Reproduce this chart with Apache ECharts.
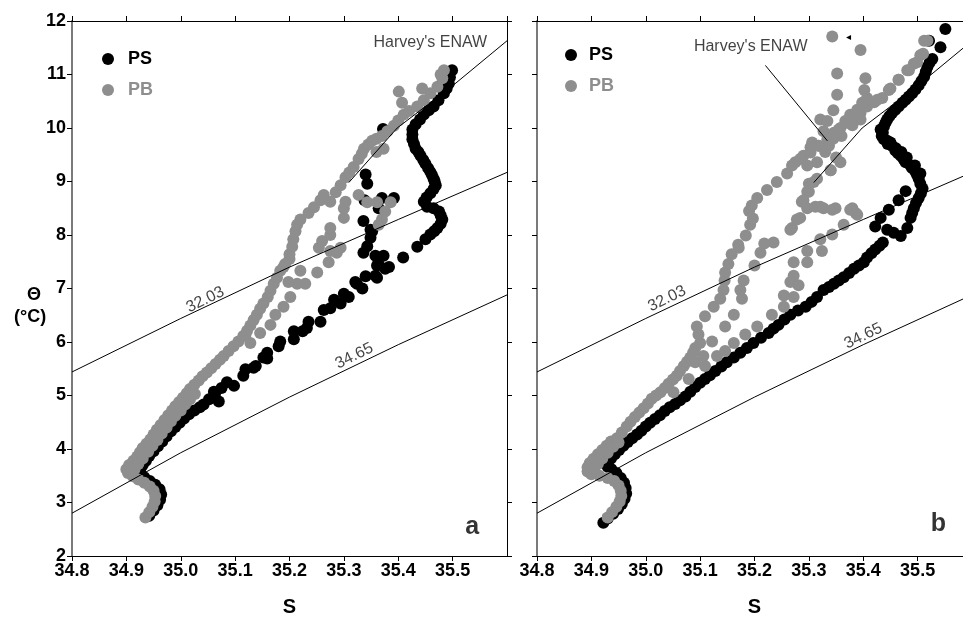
<!DOCTYPE html>
<html><head><meta charset="utf-8">
<script src="https://cdn.jsdelivr.net/npm/echarts@6/dist/echarts.min.js"></script>
<style>html,body{margin:0;padding:0;overflow:hidden;background:#fff}#c{width:990px;height:622px}</style>
</head><body><div id="c"></div>
<script>
// ---------- data ----------
const sTicks = [34.8, 34.9, 35.0, 35.1, 35.2, 35.3, 35.4, 35.5, 35.6];
const thetaTicks = [2, 3, 4, 5, 6, 7, 8, 9, 10, 11, 12];

// panel a, PS (black)
const psA = [
[34.942,2.75],[34.950,2.85],[34.957,2.95],[34.962,3.05],[34.964,3.15],[34.961,3.25],[34.953,3.33],[34.943,3.40],[34.933,3.47],[34.926,3.55],[34.925,3.62],[34.93,3.70],[34.936,3.78],[34.942,3.87],[34.95,3.96],[34.958,4.05],[34.966,4.14],[34.974,4.24],[34.982,4.33],[34.99,4.41],[34.998,4.49],[35.006,4.57],[35.015,4.65],[35.025,4.72],[35.035,4.78],[35.042,4.83],[35.052,4.93],[35.063,5.03],[35.07,4.89],[35.061,5.07],[35.075,5.14],[35.085,5.25],[35.098,5.18],[35.115,5.37],[35.119,5.49],[35.134,5.52],[35.138,5.55],[35.152,5.71],[35.159,5.80],[35.159,5.69],[35.18,5.92],[35.183,6.01],[35.208,6.05],[35.208,6.20],[35.224,6.20],[35.232,6.26],[35.235,6.38],[35.257,6.38],[35.263,6.60],[35.275,6.63],[35.282,6.79],[35.294,6.72],[35.30,6.90],[35.309,6.84],[35.321,7.12],[35.324,7.09],[35.334,7.00],[35.34,7.23],[35.358,7.24],[35.361,7.20],[35.361,7.43],[35.376,7.37],[35.383,7.40],[35.364,7.45],[35.336,7.67],[35.358,7.61],[35.373,7.61],[35.409,7.58],[35.343,7.79],[35.349,7.95],[35.349,8.10],[35.352,8.07],[35.336,8.26],[35.338,8.65],[35.364,8.50],[35.37,8.69],[35.392,8.69],[35.343,8.96],[35.34,9.13],[35.372,9.98],
[35.435,7.78],[35.45,7.92],[35.459,8.01],[35.466,8.07],[35.472,8.13],[35.478,8.21],[35.481,8.29],[35.478,8.37],[35.475,8.44],[35.465,8.50],[35.453,8.53],[35.447,8.62],[35.452,8.70],[35.459,8.78],[35.465,8.86],[35.469,8.93],[35.467,9.0],[35.465,9.05],[35.462,9.12],[35.459,9.18],[35.455,9.25],[35.45,9.33],[35.446,9.40],[35.441,9.48],[35.437,9.55],[35.432,9.61],[35.429,9.70],[35.426,9.79],[35.426,9.88],[35.426,9.97],[35.432,10.07],[35.44,10.16],[35.447,10.25],[35.456,10.33],[35.465,10.40],[35.474,10.52],[35.484,10.65],[35.489,10.74],[35.493,10.83],[35.495,10.95],[35.499,11.08]
];

// panel a, PB (grey)
const pbA = [
[34.935,2.72],[34.942,2.82],[34.948,2.92],[34.952,3.02],[34.953,3.12],[34.950,3.22],[34.943,3.30],[34.933,3.37],[34.922,3.43],[34.912,3.49],[34.903,3.55],[34.900,3.62],[34.905,3.70],[34.913,3.78],[34.92,3.86],[34.925,3.94],[34.93,4.02],[34.937,4.10],[34.944,4.18],[34.95,4.27],[34.956,4.36],[34.963,4.45],[34.97,4.54],[34.977,4.63],[34.984,4.72],[34.99,4.80],[34.997,4.88],[35.004,4.96],[35.011,5.04],[35.017,5.12],[35.025,5.2],[35.033,5.28],[35.04,5.36],[35.048,5.43],[35.056,5.51],[35.064,5.59],[35.072,5.67],[35.079,5.74],[35.088,5.83],[35.097,5.92],[35.106,6.01],[35.115,6.11],[35.122,6.21],[35.128,6.31],[35.134,6.41],[35.14,6.51],[35.146,6.62],[35.152,6.72],[35.16,6.84],[35.165,6.96],[35.171,7.09],[35.177,7.2],[35.183,7.33],[35.189,7.40],[35.192,7.46],[35.2,7.55],[35.20,7.64],[35.205,7.78],[35.207,7.92],[35.211,8.07],[35.214,8.19],[35.22,8.29],[35.235,8.41],[35.245,8.52],[35.257,8.65],[35.263,8.75],[35.275,8.62],[35.285,8.80],[35.294,8.93],[35.303,9.08],[35.31,9.17],[35.318,9.27],[35.327,9.42],[35.333,9.52],[35.337,9.61],[35.345,9.69],[35.352,9.76],[35.36,9.80],[35.370,9.85],[35.38,9.94],[35.392,10.04],[35.40,10.14],[35.41,10.25],[35.42,10.32],[35.435,10.40],[35.447,10.52],[35.459,10.65],[35.472,10.77],[35.481,10.93],[35.484,11.08],[35.478,11.0],
[34.915,3.62],[34.922,3.72],[34.93,3.82],[34.94,3.95],[34.948,4.06],[34.957,4.17],[34.965,4.29],[34.974,4.40],[34.982,4.52],[34.99,4.62],[35.0,4.72],[35.008,4.83],[35.017,4.93],[35.026,5.03],
[35.401,10.68],[35.407,10.47],[35.444,10.74],[35.373,9.61],[35.36,9.55],
[35.119,6.13],[35.128,5.98],[35.146,6.17],[35.165,6.32],[35.174,6.51],[35.189,6.66],[35.2015,6.84],[35.214,7.09],[35.229,7.09],[35.198,7.12],[35.22,7.33],[35.251,7.30],[35.272,7.49],[35.287,7.67],
[35.275,7.70],[35.294,7.76],[35.254,7.76],[35.26,7.89],[35.275,8.0],[35.275,8.13],[35.30,8.32],[35.30,8.5],[35.303,8.62],[35.327,8.75],[35.343,8.61],[35.361,8.61],[35.386,8.61],[35.376,8.44],[35.37,8.29],[35.364,8.19]
];

// panel b, PS (black)
const psB = [
[34.922,2.62],[34.93,2.70],[34.94,2.79],[34.949,2.88],[34.956,2.97],[34.961,3.07],[34.964,3.17],[34.963,3.27],[34.96,3.37],[34.954,3.46],[34.946,3.55],[34.937,3.62],[34.93,3.67],[34.93,3.74],[34.936,3.82],[34.943,3.90],[34.951,3.98],[34.959,4.06],[34.967,4.13],[34.975,4.20],[34.984,4.27],[34.992,4.34],[35.0,4.42],[35.008,4.49],[35.017,4.56],[35.026,4.63],[35.035,4.71],[35.044,4.78],[35.054,4.84],[35.063,4.91],[35.073,4.98],[35.082,5.07],[35.091,5.16],[35.1,5.24],[35.109,5.31],[35.118,5.38],[35.128,5.46],[35.139,5.54],[35.149,5.62],[35.162,5.71],[35.174,5.80],[35.186,5.89],[35.198,5.98],[35.212,6.08],[35.226,6.17],[35.235,6.25],[35.244,6.32],[35.255,6.42],[35.266,6.51],[35.28,6.59],[35.294,6.66],[35.305,6.75],[35.315,6.84],[35.327,6.97],[35.337,7.03],[35.346,7.09],[35.355,7.15],[35.364,7.21],[35.374,7.29],[35.383,7.37],[35.392,7.43],[35.401,7.49],[35.407,7.58],[35.415,7.66],[35.422,7.73],[35.43,7.80],[35.436,7.86],
[35.422,8.16],[35.432,8.32],[35.444,8.10],[35.456,8.04],[35.469,7.98],[35.481,8.13],[35.487,8.32],[35.49,8.41],[35.493,8.50],[35.497,8.60],[35.502,8.69],[35.506,8.78],[35.509,8.87],[35.505,8.96],[35.502,9.05],[35.499,9.12],[35.496,9.18],[35.49,9.25],[35.487,9.30],[35.478,9.36],[35.474,9.42],[35.469,9.48],[35.464,9.53],[35.459,9.58],[35.454,9.66],[35.45,9.73],[35.444,9.76],[35.438,9.79],[35.434,9.85],[35.436,9.91],[35.432,9.97],[35.438,10.03],[35.441,10.10],[35.444,10.16],[35.448,10.22],[35.453,10.28],[35.459,10.34],[35.465,10.40],[35.472,10.47],[35.478,10.53],[35.484,10.59],[35.49,10.65],[35.496,10.72],[35.502,10.80],[35.507,10.88],[35.512,10.96],[35.515,11.05],[35.518,11.14],[35.522,11.22],[35.527,11.29],[35.542,11.51],[35.521,11.63],[35.551,11.85],
[35.447,8.47],[35.465,8.65],[35.478,8.82],[35.445,9.70],[35.46,9.62],[35.47,9.55],[35.48,9.45],[35.495,9.30],[35.505,9.15]
];

// panel b, PB (grey)
const pbB = [
[34.93,2.72],[34.938,2.82],[34.946,2.92],[34.952,3.02],[34.955,3.12],[34.954,3.22],[34.95,3.32],[34.942,3.40],[34.93,3.46],[34.915,3.50],[34.900,3.53],[34.893,3.58],[34.893,3.66],[34.897,3.74],[34.904,3.82],[34.912,3.90],[34.92,3.98],[34.928,4.06],[34.936,4.14],[34.947,4.20],[34.956,4.31],[34.965,4.42],[34.972,4.51],[34.98,4.60],[34.988,4.68],[34.996,4.76],[35.004,4.85],[35.011,4.94],[35.019,5.0],[35.027,5.06],[35.035,5.14],[35.042,5.22],[35.05,5.30],[35.057,5.37],[35.063,5.46],[35.07,5.55],[35.076,5.63],[35.082,5.71],[35.087,5.80],[35.091,5.89],[35.1,5.98],[35.097,6.14],[35.094,6.29],[35.109,6.48],[35.125,6.66],[35.137,6.81],[35.143,6.97],[35.145,7.15],[35.146,7.30],[35.152,7.46],[35.158,7.64],[35.17,7.82],[35.184,7.99],[35.192,8.19],[35.197,8.31],[35.19,8.45],[35.195,8.55],[35.205,8.69],[35.223,8.84],[35.241,8.99],[35.26,9.15],[35.275,9.36],[35.29,9.48],[35.303,9.64],[35.318,9.67],[35.334,9.79],[35.346,9.91],[35.358,10.0],[35.37,10.10],[35.383,10.19],[35.395,10.28],[35.407,10.40],[35.42,10.48],[35.435,10.56],[35.45,10.74],[35.465,10.90],[35.481,11.08],[35.493,11.20],[35.505,11.36],[35.512,11.63],
[34.905,3.62],[34.912,3.72],[34.92,3.82],[34.93,3.93],[34.94,4.04],[34.95,4.12],
[35.051,5.06],[35.079,5.31],[35.091,5.62],[35.106,5.74],[35.122,6.01],[35.146,6.29],[35.162,6.51],[35.177,6.81],[35.174,6.97],[35.18,7.15],[35.20,7.43],[35.211,7.67],[35.171,7.76],[35.218,7.84],[35.235,7.86],[35.269,8.13],[35.284,8.32],[35.287,8.62],[35.30,8.81],[35.30,8.96],[35.315,9.05],[35.34,9.21],[35.315,9.36],[35.358,9.36],[35.321,8.53],[35.349,8.50],[35.38,8.50],[35.386,8.41],
[35.109,5.55],[35.131,5.74],[35.146,5.83],[35.162,5.98],[35.183,6.14],[35.205,6.29],[35.232,6.51],[35.254,6.66],[35.272,6.84],[35.254,6.87],[35.281,7.06],[35.266,7.12],[35.272,7.24],[35.297,7.49],[35.324,7.70],[35.343,8.01],[35.364,8.19],[35.389,8.38],[35.376,8.47],
[35.297,9.30],[35.309,8.99],[35.297,8.81],[35.29,8.65],[35.297,8.50],[35.312,8.53],[35.327,8.50],[35.343,8.47],[35.278,8.29],[35.266,8.10],[35.321,7.92],[35.297,7.70],[35.272,7.49],[35.34,9.21],[35.284,9.42],[35.269,9.30],
[35.306,9.73],[35.303,9.54],[35.318,9.67],[35.337,9.67],[35.321,10.16],[35.355,9.97],[35.367,10.13],[35.376,10.25],[35.389,10.34],[35.398,10.47],[35.407,10.56],[35.395,10.16],[35.426,10.53],[35.447,10.71],[35.465,10.90],[35.484,11.08],[35.499,11.23],[35.51,11.39],[35.518,11.63],[35.38,10.05],[35.36,9.85],[35.345,9.80],[35.33,9.55],[35.35,9.45],
[35.343,11.71],[35.395,11.46],[35.352,11.02],[35.404,10.93],[35.352,10.62],[35.402,10.71],[35.345,10.33],[35.334,10.13],[35.327,9.94]
];

// reference curves
const iso3203 = [[34.8,5.44],[35.0,6.44],[35.2,7.40],[35.4,8.29],[35.6,9.17]];
const iso3465 = [[34.8,2.80],[35.0,3.93],[35.2,4.97],[35.4,5.95],[35.6,6.88]];
const harveyENAW = [[35.309,8.98],[35.398,10.0],[35.5,10.79],[35.6,11.63]];
const harveyLeaderB = [[35.22,11.17],[35.334,9.76]];
const arrowTipB = [[35.373,11.69]];

// ---------- chart ----------
const FONT = '"Liberation Sans", Arial, sans-serif';
const GRAY = '#8e8e8e';
const chart = echarts.init(document.getElementById('c'), null, {renderer: 'canvas'});

function xAxes(gi) {
  return [
    {gridIndex: gi, type: 'value', position: 'bottom', min: sTicks[0], max: sTicks[sTicks.length - 1], interval: 0.1,
     axisLine: {show: true, onZero: false, lineStyle: {color: '#000', width: 1}},
     axisTick: {show: true, inside: false, length: 5, lineStyle: {color: '#000'}},
     axisLabel: {show: true, margin: 6, fontFamily: FONT, fontWeight: 'bold', fontSize: 18, color: '#000',
                 showMaxLabel: false, formatter: v => v.toFixed(1)},
     splitLine: {show: false},
     name: 'S', nameLocation: 'middle', nameGap: 41,
     nameTextStyle: {fontFamily: FONT, fontWeight: 'bold', fontSize: 20, color: '#000'}},
    {gridIndex: gi, type: 'value', position: 'top', min: sTicks[0], max: sTicks[sTicks.length - 1], interval: 0.1,
     axisLine: {show: true, onZero: false, lineStyle: {color: '#000', width: 1}},
     axisTick: {show: true, length: 5, lineStyle: {color: '#000'}},
     axisLabel: {show: false}, splitLine: {show: false}}
  ];
}
function yAxes(gi, labels) {
  return [
    {gridIndex: gi, type: 'value', position: 'left', min: thetaTicks[0], max: thetaTicks[thetaTicks.length - 1], interval: 1,
     axisLine: {show: true, onZero: false, lineStyle: {color: '#7a7a7a', width: 2}},
     axisTick: {show: true, length: 5, lineStyle: {color: '#000'}},
     axisLabel: {show: labels, margin: 6, fontFamily: FONT, fontWeight: 'bold', fontSize: 18, color: '#000'},
     splitLine: {show: false}},
    {gridIndex: gi, type: 'value', position: 'right', min: thetaTicks[0], max: thetaTicks[thetaTicks.length - 1], interval: 1,
     axisLine: {show: true, onZero: false, lineStyle: {color: '#000', width: 1}},
     axisTick: {show: true, length: 5, lineStyle: {color: '#000'}},
     axisLabel: {show: false}, splitLine: {show: false}}
  ];
}

function lineSeries(data, xi, yi) {
  return {type: 'line', xAxisIndex: xi, yAxisIndex: yi, data: data, symbol: 'none', showSymbol: false,
          lineStyle: {color: '#000', width: 1}, z: 6, silent: true, animation: false};
}
function noteItem(value, text, opts) {
  return {value: value, label: Object.assign({show: true, position: 'inside', formatter: text,
          fontFamily: FONT, fontSize: 16, color: '#111'}, opts || {})};
}
function notesSeries(xi, yi, items) {
  return {type: 'scatter', xAxisIndex: xi, yAxisIndex: yi, symbolSize: 1, itemStyle: {color: 'rgba(0,0,0,0)'},
          data: items, z: 7, silent: true, animation: false};
}
function dots(name, data, xi, yi, color, z) {
  return {name: name, type: 'scatter', xAxisIndex: xi, yAxisIndex: yi, data: data, symbolSize: 12,
          itemStyle: {color: color, opacity: 1}, z: z};
}

const letterStyle = {fontFamily: FONT, fontSize: 25, fontWeight: 'bold', color: '#000'};

const option = {
  animation: false,
  backgroundColor: '#fff',
  grid: [
    {left: 72, top: 21, width: 435, height: 543},
    {left: 537, top: 21, width: 435, height: 543}
  ],
  xAxis: [...xAxes(0), ...xAxes(1)],
  yAxis: [...yAxes(0, true), ...yAxes(1, false)],
  legend: [
    {left: 97, top: 45, orient: 'vertical', icon: 'circle', itemWidth: 12, itemHeight: 12, itemGap: 13,
     selectedMode: false, itemStyle: {opacity: 1},
     textStyle: {fontFamily: FONT, fontWeight: 'bold', fontSize: 18, padding: [0, 0, 0, 9]},
     data: [{name: 'PS', textStyle: {color: '#000'}}, {name: 'PB', textStyle: {color: GRAY}}]},
    {left: 560, top: 41, orient: 'vertical', icon: 'circle', itemWidth: 12, itemHeight: 12, itemGap: 13,
     selectedMode: false, itemStyle: {opacity: 1},
     textStyle: {fontFamily: FONT, fontWeight: 'bold', fontSize: 18, padding: [0, 0, 0, 7]},
     data: [{name: 'PS', textStyle: {color: '#000'}}, {name: 'PB', textStyle: {color: GRAY}}]}
  ],
  graphic: [
    {type: 'text', left: 27, top: 286, style: {text: 'Θ', font: 'bold 18px "Liberation Sans", Arial, sans-serif', fill: '#000'}},
    {type: 'text', left: 14, top: 308, style: {text: '(°C)', font: 'bold 18px "Liberation Sans", Arial, sans-serif', fill: '#000'}}
  ],
  series: [
    dots('PS', psA, 0, 0, '#000', 2),
    dots('PB', pbA, 0, 0, GRAY, 3),
    dots('PS', psB, 2, 2, '#000', 2),
    dots('PB', pbB, 2, 2, GRAY, 3),
    lineSeries(iso3203, 0, 0), lineSeries(iso3465, 0, 0), lineSeries(harveyENAW, 0, 0),
    lineSeries(iso3203, 2, 2), lineSeries(iso3465, 2, 2), lineSeries(harveyENAW, 2, 2), lineSeries(harveyLeaderB, 2, 2),
    {type: 'scatter', xAxisIndex: 2, yAxisIndex: 2, data: arrowTipB, symbol: 'triangle', symbolRotate: 90, symbolSize: 5,
     itemStyle: {color: '#000', opacity: 1}, z: 6, silent: true},
    notesSeries(0, 0, [
      noteItem([35.045, 6.79], '32.03', {rotate: 26}),
      noteItem([35.319, 5.74], '34.65', {rotate: 26}),
      noteItem([35.459, 11.60], "Harvey's ENAW"),
      noteItem([35.536, 2.54], 'a', letterStyle)
    ]),
    notesSeries(2, 2, [
      noteItem([35.039, 6.81], '32.03', {rotate: 26}),
      noteItem([35.40, 6.11], '34.65', {rotate: 26}),
      noteItem([35.193, 11.52], "Harvey's ENAW"),
      noteItem([35.538, 2.60], 'b', letterStyle)
    ])
  ]
};
chart.setOption(option);
</script>
</body></html>
